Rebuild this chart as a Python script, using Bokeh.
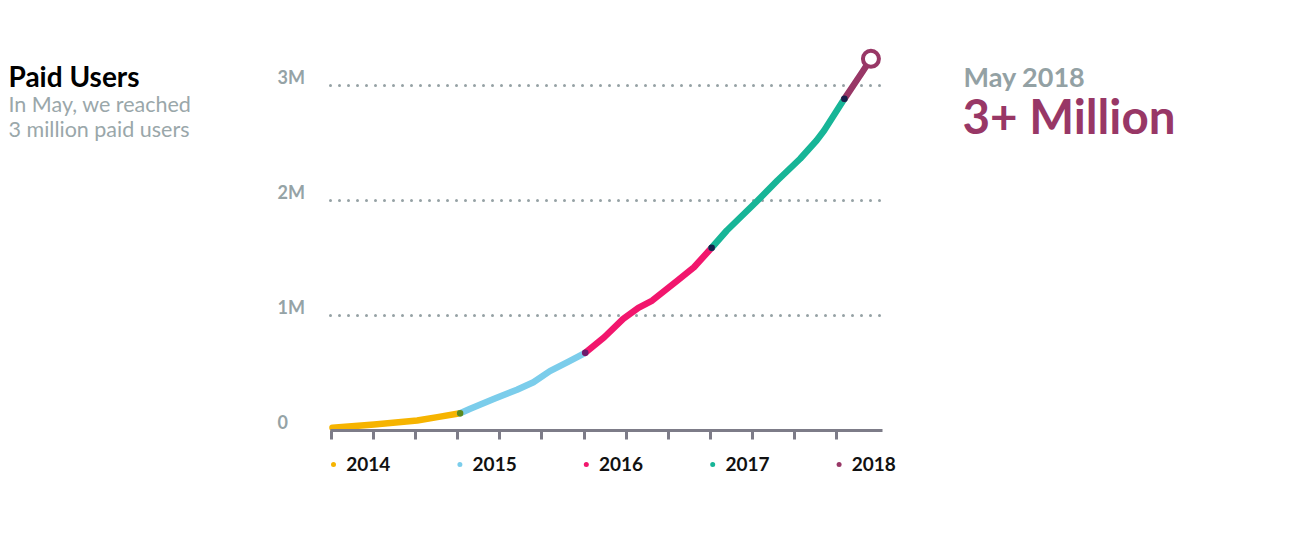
from bokeh.plotting import figure
from bokeh.models import Range1d, LinearAxis, FixedTicker, Grid, Label
from bokeh.core.properties import value
from bokeh.embed import file_html
from bokeh.resources import INLINE

# ---------------- data (x in fractional years, y in millions of paid users) ----------------
seg_years = ["2014", "2015", "2016", "2017", "2018"]
seg_colors = ["#F6B400", "#7BCDEB", "#F2166D", "#17B597", "#983766"]
joint_colors = ["#5C8A1C", "#6A1B6C", "#15204A", "#15204A"]

x_2014 = [2014.01, 2014.34, 2014.68, 2014.84, 2015.02]
y_2014 = [0.023, 0.052, 0.087, 0.116, 0.150]
x_2015 = [2015.02, 2015.10, 2015.29, 2015.47, 2015.60, 2015.73, 2015.87, 2016.01]
y_2015 = [0.150, 0.189, 0.276, 0.354, 0.420, 0.516, 0.594, 0.676]
x_2016 = [2016.01, 2016.16, 2016.31, 2016.43, 2016.54, 2016.74, 2016.87, 2017.01]
y_2016 = [0.676, 0.811, 0.971, 1.067, 1.130, 1.304, 1.420, 1.589]
x_2017 = [2017.01, 2017.13, 2017.36, 2017.53, 2017.71, 2017.84, 2017.90, 2018.06]
y_2017 = [1.589, 1.739, 1.985, 2.174, 2.363, 2.522, 2.609, 2.884]
x_2018 = [2018.06, 2018.14, 2018.21, 2018.27]
y_2018 = [2.884, 3.015, 3.130, 3.232]

year_ticks = [2014, 2015, 2016, 2017, 2018]
year_labels = ["2014", "2015", "2016", "2017", "2018"]
month_ticks = [2014 + i / 3 for i in range(13)]
y_ticks = [0, 1, 2, 3]
y_tick_labels = ["0", "1M", "2M", "3M"]

title_text = "Paid Users"
subtitle_lines = ["In May, we reached", "3 million paid users"]
callout_date = "May 2018"
callout_value = "3+ Million"

# ---------------- layout / scale ----------------
W, H = 1292, 552
X0_PX, PX_PER_YR = 330.7, 126.4
Y0_PX, PX_PER_M = 430.0, 115.0


def xd(px):
    return 2014 + (px - X0_PX) / PX_PER_YR


def yd(py):
    return (Y0_PX - py) / PX_PER_M


p = figure(width=W, height=H, min_border=0, min_border_left=0, min_border_right=0,
           min_border_top=0, min_border_bottom=0,
           x_axis_type=None, y_axis_type=None, toolbar_location=None,
           output_backend="svg", outline_line_color=None,
           x_range=Range1d(xd(0), xd(W)), y_range=Range1d(yd(H), yd(0)))
p.background_fill_color = "white"
p.border_fill_color = "white"

FONT = "Lato"
GRAY = "#95A3A6"

# dotted gridlines
grid = Grid(dimension=1, ticker=FixedTicker(ticks=y_ticks[1:]),
            cross_bounds=(xd(330), xd(886)),
            grid_line_color="#96A2A5", grid_line_width=3, grid_line_dash="0 9",
            grid_line_cap="round")
p.add_layout(grid)

# x axis (fixed at y = 0)
xaxis = LinearAxis(fixed_location=0, ticker=FixedTicker(ticks=month_ticks, minor_ticks=[]),
                   bounds=(xd(330), xd(882)),
                   axis_line_color="#7D7C88", axis_line_width=3,
                   major_tick_line_color="#7D7C88", major_tick_line_width=3,
                   major_tick_in=0, major_tick_out=9,
                   minor_tick_line_color=None,
                   major_label_text_font_size="0px", major_label_text_alpha=0)
p.add_layout(xaxis, "below")

# y tick labels
p.text(x=[xd(277)] * len(y_ticks), y=y_ticks, text=y_tick_labels,
       text_font=value(FONT), text_font_style="bold", text_font_size="18px",
       text_color=GRAY, text_baseline="middle", text_align="left", y_offset=-9)

# line segments
segs = [(x_2014, y_2014), (x_2015, y_2015), (x_2016, y_2016), (x_2017, y_2017), (x_2018, y_2018)]
for (xs, ys), c in zip(segs, seg_colors):
    p.line(xs, ys, line_color=c, line_width=6.5, line_cap="round", line_join="round")

# joints
jx = [s[0][0] for s in segs[1:]]
jy = [s[1][0] for s in segs[1:]]
p.scatter(jx, jy, size=6.5, fill_color=joint_colors, line_color=None)

# end ring
p.scatter([x_2018[-1]], [y_2018[-1]], size=16, fill_color="white",
          line_color=seg_colors[-1], line_width=4)

# year legend under axis
ly = yd(464)
p.scatter([t + 2.3 / PX_PER_YR for t in year_ticks], [ly] * 5, size=5,
          fill_color=seg_colors, line_color=None)
p.text(x=year_ticks, y=[ly] * 5, text=year_labels, x_offset=15,
       text_font=value(FONT), text_font_style="bold", text_font_size="19px",
       text_color="#111111", text_baseline="middle", text_align="left", y_offset=-1)

# texts
p.add_layout(Label(x=xd(8), y=yd(75), text=title_text, text_font=FONT,
                   text_font_style="bold", text_font_size="28px", text_color="#000000",
                   text_baseline="middle"))
p.add_layout(Label(x=xd(8), y=yd(103), text=subtitle_lines[0], text_font=FONT,
                   text_font_size="21.5px", text_color="#9AA7AA", text_baseline="middle"))
p.add_layout(Label(x=xd(8), y=yd(128), text=subtitle_lines[1], text_font=FONT,
                   text_font_size="21.5px", text_color="#9AA7AA", text_baseline="middle"))
p.add_layout(Label(x=xd(963), y=yd(75.5), text=callout_date, text_font=FONT,
                   text_font_style="bold", text_font_size="27px", text_color="#93A1A4",
                   text_baseline="middle"))
p.add_layout(Label(x=xd(962), y=yd(115), text=callout_value, text_font=FONT,
                   text_font_style="bold", text_font_size="47.5px", text_color="#983766",
                   text_baseline="middle"))

open("out.html", "w").write(file_html(p, INLINE))
